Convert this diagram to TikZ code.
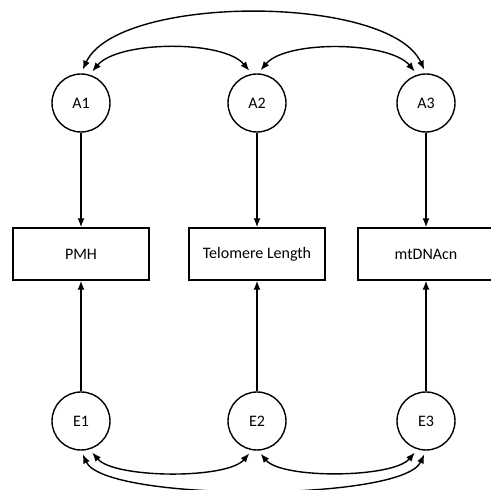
\documentclass[tikz,border=0pt]{standalone}
\usepackage{fontspec}
\setmainfont{Carlito}
\usetikzlibrary{positioning,arrows.meta}

\begin{document}
\begin{tikzpicture}[
    node distance=151pt and 176pt,
    on grid,
    latente/.style={
        draw,
        circle,
        line width=1.4pt,
        minimum size=58pt,
        inner sep=0pt,
        font=\fontsize{16}{19}\selectfont
    },
    caja/.style={
        draw,
        line width=1.4pt,
        minimum width=136pt,
        minimum height=52pt,
        align=center,
        inner sep=0pt,
        font=\fontsize{16}{19}\selectfont
    },
    flecha/.style={-{Latex[length=9pt,width=7pt]},line width=1.4pt},
    doble/.style={{Latex[length=9pt,width=7pt]}-{Latex[length=9pt,width=7pt]},line width=1.4pt,shorten <=4pt,shorten >=4pt}
]
\useasboundingbox (0pt,0pt) rectangle (491pt,490pt);

\node[latente] (a1) at (81pt,387pt) {A1};
\node[latente, right=176pt of a1] (a2) {A2};
\node[latente, right=169pt of a2] (a3) {A3};

\node[caja, below=151pt of a1] (pmh) {PMH};
\node[caja, below=151pt of a2] (tel) {Telomere Length};
\node[caja, below=151pt of a3] (mt) {mtDNAcn};

\node[latente, below=167pt of pmh] (e1) {E1};
\node[latente, below=167pt of tel] (e2) {E2};
\node[latente, below=167pt of mt] (e3) {E3};

\draw[flecha] (a1) -- (pmh);
\draw[flecha] (a2) -- (tel);
\draw[flecha] (a3) -- (mt);
\draw[flecha] (e1) -- (pmh);
\draw[flecha] (e2) -- (tel);
\draw[flecha] (e3) -- (mt);

% correlaciones arriba
\draw[doble] (a1.north) to[out=65,in=115,looseness=0.65] (a3.north);
\draw[doble] (a1.73) to[out=50,in=130,looseness=0.7] (a2.100);
\draw[doble] (a2.88) to[out=50,in=130,looseness=0.7] (a3.107);

% correlaciones abajo
\draw[doble] (e1.south) to[out=-65,in=-115,looseness=0.42] (e3.south);
\draw[doble] (e1.-73) to[out=-50,in=-130,looseness=0.6] (e2.-100);
\draw[doble] (e2.-88) to[out=-50,in=-130,looseness=0.6] (e3.-107);

\end{tikzpicture}
\end{document}
